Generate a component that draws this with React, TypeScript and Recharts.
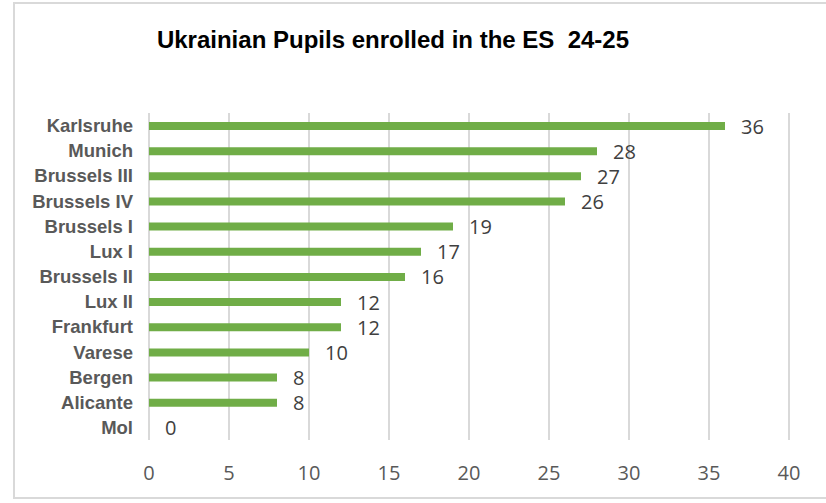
import React from "react";
import { BarChart, Bar, XAxis, YAxis, CartesianGrid, LabelList } from "recharts";

const categories = [
  "Karlsruhe",
  "Munich",
  "Brussels III",
  "Brussels IV",
  "Brussels I",
  "Lux I",
  "Brussels II",
  "Lux II",
  "Frankfurt",
  "Varese",
  "Bergen",
  "Alicante",
  "Mol",
];
const pupils = [36, 28, 27, 26, 19, 17, 16, 12, 12, 10, 8, 8, 0];
const xTicks = [0, 5, 10, 15, 20, 25, 30, 35, 40];
const title = "Ukrainian Pupils enrolled in the ES\u00a0\u00a024-25";

const data = categories.map((name, i) => ({ name, value: pupils[i] }));

const ValueLabel = (props: any) => {
  const { x, y, width, height, value } = props;
  return (
    <text
      x={Number(x) + Number(width) + 16}
      y={Number(y) + Number(height) / 2}
      dominantBaseline="central"
      textAnchor="start"
      fill="#404040"
      fontSize={20}
      fontFamily="'Open Sans', sans-serif"
    >
      {value}
    </text>
  );
};

export default function App() {
  return (
    <div style={{ position: "absolute", left: 0, top: 0, width: 826, height: 503, background: "#fff", overflow: "hidden" }}>
      <div
        style={{
          position: "absolute",
          left: 13,
          top: 2,
          width: 830,
          height: 497,
          border: "2px solid #D9D9D9",
          boxSizing: "border-box",
        }}
      />
      <div
        style={{
          position: "absolute",
          left: 0,
          width: 786,
          top: 25,
          textAlign: "center",
          fontFamily: "'Liberation Sans', Arial, sans-serif",
          fontWeight: "bold",
          fontSize: 24,
          lineHeight: "30px",
          color: "#000",
          whiteSpace: "pre",
        }}
      >
        {title}
      </div>
      <div style={{ position: "absolute", left: 0, top: 0 }}>
        <BarChart
          width={826}
          height={503}
          data={data}
          layout="vertical"
          margin={{ top: 113, right: 37, bottom: 23, left: 0 }}
          barCategoryGap={0}
        >
          <CartesianGrid horizontal={false} stroke="#D9D9D9" strokeWidth={2} />
          <XAxis
            type="number"
            domain={[0, 40]}
            ticks={xTicks}
            interval={0}
            axisLine={false}
            tickLine={false}
            tickSize={0}
            tickMargin={26}
            height={40}
            tick={{ fill: "#595959", fontSize: 20, fontFamily: "'Open Sans', sans-serif" }}
          />
          <YAxis
            type="category"
            dataKey="name"
            width={149}
            axisLine={false}
            tickLine={false}
            tickSize={0}
            tickMargin={16}
            interval={0}
            tick={{ fill: "#595959", fontSize: 18.5, fontWeight: "bold", fontFamily: "'Liberation Sans', Arial, sans-serif" }}
          />
          <Bar dataKey="value" fill="#70AD47" barSize={8} minPointSize={0.01} isAnimationActive={false}>
            <LabelList dataKey="value" content={<ValueLabel />} />
          </Bar>
        </BarChart>
      </div>
    </div>
  );
}
